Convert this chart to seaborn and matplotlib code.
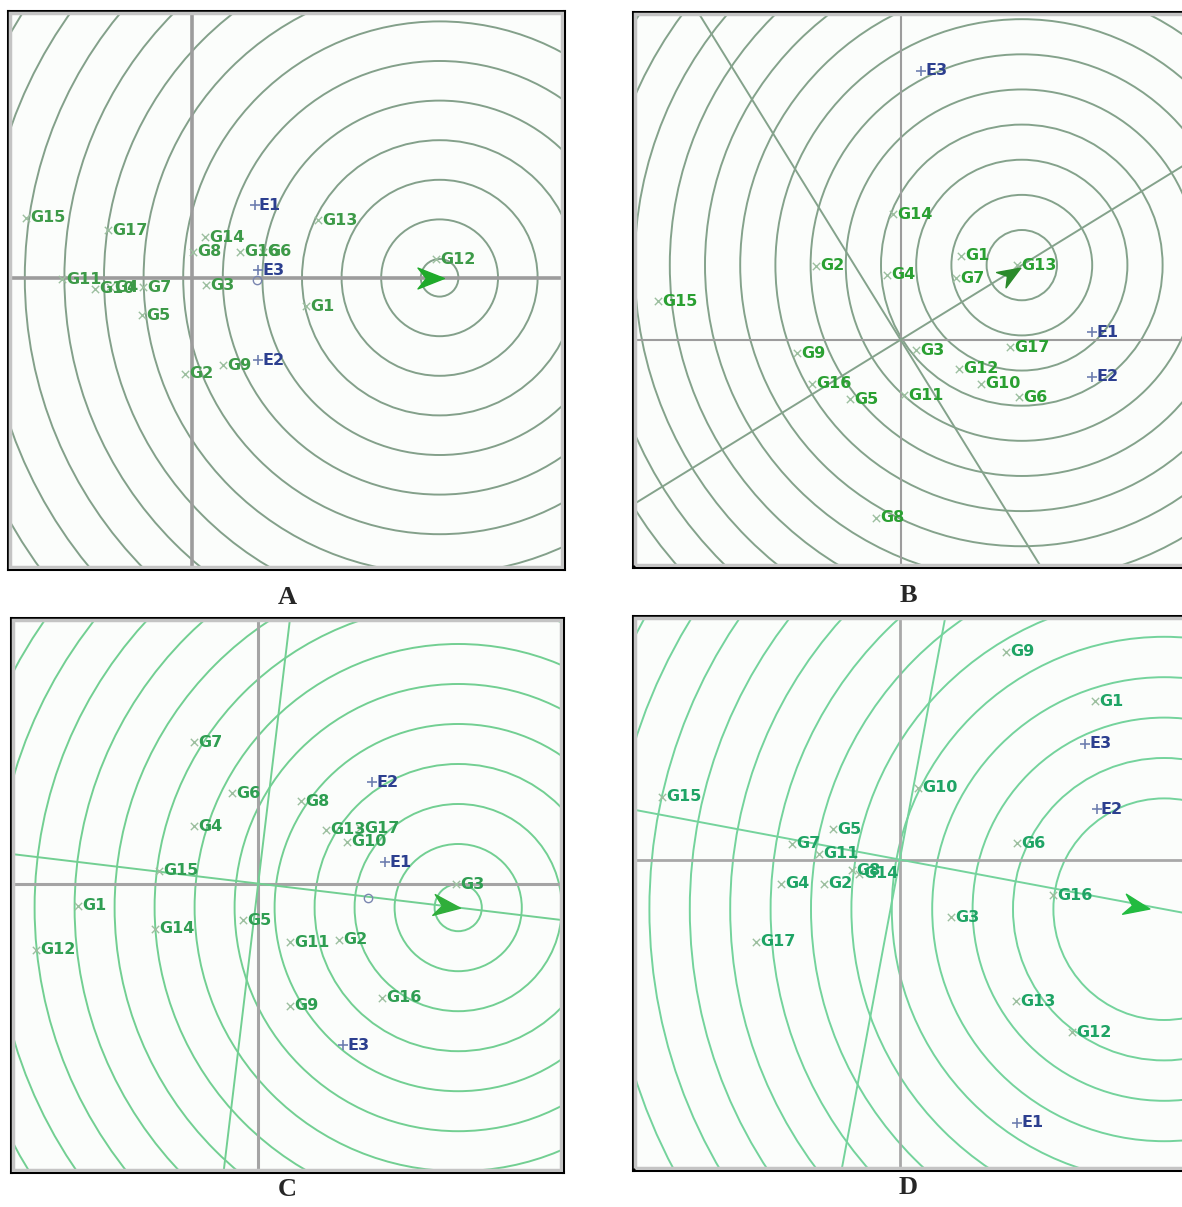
import numpy as np
import matplotlib
matplotlib.use("Agg")
import matplotlib.pyplot as plt
import seaborn as sns
import pandas as pd
from matplotlib.patches import Circle, Rectangle
from matplotlib.path import Path

sns.set_style("white")
plt.rcParams['font.family'] = ['DejaVu Sans']

GENOS = ["G1", "G2", "G3", "G4", "G5", "G6", "G7", "G8", "G9", "G10",
         "G11", "G12", "G13", "G14", "G15", "G16", "G17"]
ENVS = ["E1", "E2", "E3"]

# ---------------- Panel A ----------------
A_gx = [2.84, -0.19, 0.35, -2.06, -1.27, 1.77, -1.23, 0.02, 0.77, -2.44,
        -3.27, 6.10, 3.15, 0.31, -4.15, 1.19, -2.10]
A_gy = [-0.71, -2.40, -0.18, -0.24, -0.93, 0.65, -0.24, 0.65, -2.18, -0.27,
        -0.03, 0.47, 1.44, 1.01, 1.50, 0.65, 1.19]
A_ex = [1.56, 1.65, 1.65]
A_ey = [1.82, -2.06, 0.19]
A_center = [6.18, 0.0]
A_radii = [0.47, 1.46, 2.45, 3.44, 4.43, 5.42, 6.41, 7.40, 8.39, 9.38, 10.37, 11.36, 12.35, 13.34]
A_arrow = [5.95, 0.0]
A_avg = [1.61, -0.06]
A_xlim = [-4.61, 9.29]
A_ylim = [-7.28, 6.67]

# ---------------- Panel B ----------------
B_gx = [1.50, -2.12, 0.38, -0.33, -1.27, 2.96, 1.39, -0.61, -2.59, 2.02,
        0.09, 1.46, 2.91, -0.19, -6.06, -2.21, 2.73]
B_gy = [2.11, 1.85, -0.26, 1.63, -1.49, -1.44, 1.54, -4.46, -0.34, -1.10,
        -1.39, -0.72, 1.87, 3.14, 0.96, -1.10, -0.19]
B_ex = [4.79, 4.79, 0.52]
B_ey = [0.19, -0.93, 6.74]
B_center = [3.03, 1.87]
B_radii = [0.88, 1.76, 2.64, 3.52, 4.40, 5.28, 6.16, 7.04, 7.92, 8.80, 9.68, 10.56, 11.44, 12.32, 13.2]
B_arrow = [2.73, 1.66]
B_xlim = [-6.69, 7.21]
B_ylim = [-5.69, 8.21]

# ---------------- Panel C ----------------
C_gx = [-4.51, 2.02, 4.94, -1.60, -0.38, -0.66, -1.60, 1.08, 0.80, 2.21,
        0.80, -5.56, 1.69, -2.59, -2.49, 3.10, 2.54]
C_gy = [-0.55, -1.40, -0.02, 1.43, -0.92, 2.26, 3.53, 2.06, -3.05, 1.05,
        -1.47, -1.66, 1.34, -1.13, 0.32, -2.86, 1.38]
C_ex = [3.18, 2.85, 2.12]
C_ey = [0.53, 2.53, -4.04]
C_center = [5.00, -0.60]
C_radii = [0.59, 1.59, 2.59, 3.59, 4.59, 5.59, 6.59, 7.59, 8.59, 9.59, 10.59, 11.59, 12.59, 13.59]
C_arrow = [4.70, -0.56]
C_avg = [2.74, -0.36]
C_xlim = [-6.18, 7.62]
C_ylim = [-7.21, 6.64]

# ---------------- Panel D ----------------
D_gx = [4.87, -1.90, 1.28, -2.98, -1.66, 2.94, -2.70, -1.19, 2.66, 0.45,
        -2.01, 4.31, 2.90, -1.01, -5.94, 3.84, -3.59]
D_gy = [3.96, -0.61, -1.44, -0.61, 0.76, 0.41, 0.39, -0.27, 5.19, 1.79,
        0.15, -4.32, -3.54, -0.35, 1.57, -0.89, -2.06]
D_ex = [2.94, 4.92, 4.63]
D_ey = [-6.58, 1.26, 2.89]
D_center = [6.61, -1.24]
D_radii = [2.77, 3.78, 4.79, 5.80, 6.81, 7.82, 8.83, 9.84, 10.85, 11.86, 12.87, 13.88, 14.89]
D_arrow = [5.90, -1.16]
D_xlim = [-6.67, 7.23]
D_ylim = [-7.76, 6.09]

W, H = 1182, 1207
fig = plt.figure(figsize=(W / 100, H / 100), dpi=100)
fig.patch.set_facecolor("white")


def add_ax(x0, y0, x1, y1):
    return fig.add_axes([x0 / W, 1 - y1 / H, (x1 - x0) / W, (y1 - y0) / H])


def arrow_marker(angle):
    v = np.array([[1.0, 0.0], [-0.9, 0.75], [-0.3, 0.0], [-0.9, -0.75], [1.0, 0.0]])
    c, s = np.cos(angle), np.sin(angle)
    R = np.array([[c, -s], [s, c]])
    v = v @ R.T
    return Path(v, [Path.MOVETO, Path.LINETO, Path.LINETO, Path.LINETO, Path.CLOSEPOLY])


def panel(ax, gx, gy, ex, ey, center, radii, arrow, xlim, ylim,
          ring_col, axis_col, axis_lw, lab_col, arrow_col, show_aec, avg=None):
    ax.set_xlim(*xlim)
    ax.set_ylim(*ylim)
    ax.set_aspect("auto")
    ax.set_facecolor("#fbfdfb")
    for r in radii:
        ax.add_patch(Circle(tuple(center), r, fill=False, ec=ring_col, lw=1.4, zorder=1))
    ax.axhline(0, color=axis_col, lw=axis_lw, zorder=2)
    ax.axvline(0, color=axis_col, lw=axis_lw, zorder=2)
    ang = np.arctan2(center[1], center[0])
    if show_aec:
        ax.axline((0, 0), (center[0], center[1]), color=ring_col, lw=1.4, zorder=2)
        ax.axline((0, 0), (-center[1], center[0]), color=ring_col, lw=1.4, zorder=2)
    gdf = pd.DataFrame({"x": gx, "y": gy, "name": GENOS})
    edf = pd.DataFrame({"x": ex, "y": ey, "name": ENVS})
    sns.scatterplot(data=gdf, x="x", y="y", marker="x", color="#9cbf9f", s=28,
                    linewidth=1.0, ax=ax, legend=False, zorder=3)
    sns.scatterplot(data=edf, x="x", y="y", marker="+", color="#6f7fb0", s=60,
                    linewidth=1.2, ax=ax, legend=False, zorder=3)
    for _, r in gdf.iterrows():
        ax.annotate(r["name"], (r["x"], r["y"]), xytext=(3, 0), textcoords="offset points",
                    ha="left", va="center", fontsize=11.5, fontweight="bold",
                    color=lab_col, zorder=4)
    for _, r in edf.iterrows():
        ax.annotate(r["name"], (r["x"], r["y"]), xytext=(3, 0), textcoords="offset points",
                    ha="left", va="center", fontsize=11.5, fontweight="bold",
                    color="#2c3f8f", zorder=4)
    if avg is not None:
        ax.plot([avg[0]], [avg[1]], marker="o", ms=6, mfc="none", mec="#7a86b0", mew=1.0, zorder=3)
    ax.plot([arrow[0]], [arrow[1]], marker=arrow_marker(ang), ms=20, color=arrow_col,
            mec=arrow_col, zorder=5)
    ax.set_xticks([])
    ax.set_yticks([])
    ax.set_xlabel("")
    ax.set_ylabel("")
    for sp in ax.spines.values():
        sp.set_visible(True)
        sp.set_color("black")
        sp.set_linewidth(2.2)
    ax.add_patch(Rectangle((0.004, 0.004), 0.992, 0.992, transform=ax.transAxes,
                           fill=False, ec="#c4c4c4", lw=2.5, zorder=6))


axA = add_ax(8, 11, 564, 569)
panel(axA, A_gx, A_gy, A_ex, A_ey, A_center, A_radii, A_arrow, A_xlim, A_ylim,
      "#83a08a", "#9c9c9c", 2.6, "#3d9a48", "#1faa2a", False, A_avg)

axB = add_ax(633, 12, 1189, 567)
panel(axB, B_gx, B_gy, B_ex, B_ey, B_center, B_radii, B_arrow, B_xlim, B_ylim,
      "#84a28b", "#9c9c9c", 1.5, "#2aa032", "#2a8a2a", True)

axC = add_ax(11, 618, 563, 1172)
panel(axC, C_gx, C_gy, C_ex, C_ey, C_center, C_radii, C_arrow, C_xlim, C_ylim,
      "#72cf92", "#a4a4a4", 2.2, "#2f9e52", "#2fae3a", True, C_avg)

axD = add_ax(633, 616, 1189, 1170)
panel(axD, D_gx, D_gy, D_ex, D_ey, D_center, D_radii, D_arrow, D_xlim, D_ylim,
      "#74d39c", "#a8a8a8", 2.0, "#1fa465", "#22bb40", True)

for lab, x, y in [("A", 287, 597), ("B", 908, 595), ("C", 287, 1190), ("D", 908, 1188)]:
    fig.text(x / W, 1 - y / H, lab, ha="center", va="center", fontsize=19,
             fontweight="bold", family=["Liberation Serif", "DejaVu Serif"])

fig.savefig("out.png", dpi=100, facecolor="white")
